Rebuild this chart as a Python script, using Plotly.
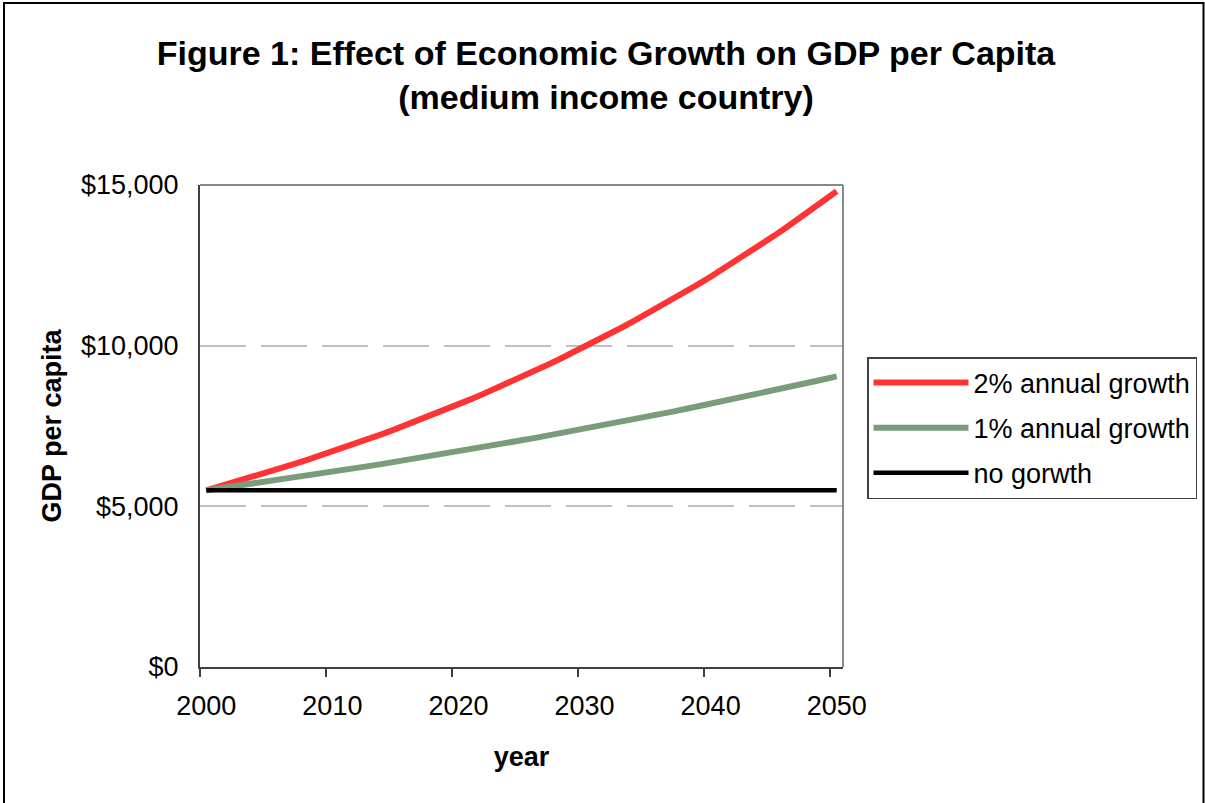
import plotly.graph_objects as go

years = list(range(2000, 2051))

growth_2pct = [
    5500, 5610, 5722, 5837, 5953, 6072, 6194, 6318, 6444, 6573,
    6704, 6839, 6975, 7115, 7257, 7402, 7550, 7701, 7855, 8013,
    8173, 8336, 8503, 8673, 8847, 9024, 9204, 9388, 9576, 9767,
    9963, 10162, 10365, 10573, 10784, 11000, 11220, 11444, 11673, 11906,
    12145, 12387, 12635, 12888, 13146, 13409, 13677, 13950, 14229, 14514,
    14804,
]
growth_1pct = [
    5500, 5555, 5611, 5667, 5723, 5781, 5838, 5897, 5956, 6015,
    6076, 6136, 6198, 6260, 6322, 6385, 6449, 6514, 6579, 6645,
    6711, 6778, 6846, 6915, 6984, 7054, 7124, 7195, 7267, 7340,
    7414, 7488, 7562, 7638, 7714, 7792, 7870, 7948, 8028, 8108,
    8189, 8271, 8354, 8437, 8522, 8607, 8693, 8780, 8868, 8956,
    9046,
]
no_growth = [5500] * 51

series_names = ["2% annual growth", "1% annual growth", "no gorwth"]
y_tickvals = [0, 5000, 10000, 15000]
y_ticktext = ["$0", "$5,000", "$10,000", "$15,000"]
x_tickvals = [2000, 2010, 2020, 2030, 2040, 2050]
x_ticktext = ["2000", "2010", "2020", "2030", "2040", "2050"]

FONT = "Liberation Sans, Arial, sans-serif"

fig = go.Figure()
fig.add_trace(go.Scatter(x=years, y=growth_2pct, mode="lines", name=series_names[0],
                         line=dict(color="#FF3333", width=6), legendgroup="a"))
fig.add_trace(go.Scatter(x=years, y=growth_1pct, mode="lines", name=series_names[1],
                         line=dict(color="#7A9C7A", width=6), legendgroup="b"))
fig.add_trace(go.Scatter(x=years, y=no_growth, mode="lines", name=series_names[2],
                         line=dict(color="#000000", width=4.5), legendgroup="c"))

# plot area in px: left 200, right 843, top 185, bottom 667
L, R, T, B = 200, 843, 185, 667
W, H = 1205, 803
pw, ph = R - L, B - T

def fx(px):
    return (px - L) / pw

def fy(py):
    return (B - py) / ph

fig.update_layout(
    width=W, height=H,
    margin=dict(l=L, r=W - R, t=T, b=H - B, pad=0, autoexpand=False),
    paper_bgcolor="white", plot_bgcolor="white",
    font=dict(family=FONT, size=27, color="black"),
    title=dict(
        text="<b>Figure 1: Effect of Economic Growth on GDP per Capita<br>(medium income country)</b>",
        font=dict(family=FONT, size=34, color="black"),
        x=606 / W, xanchor="center", xref="container",
        y=1 - 65 / H, yanchor="top", yref="container",
    ),
    xaxis=dict(
        range=[1999.5, 2050.5],
        tickmode="array", tickvals=x_tickvals, ticktext=x_ticktext,
        ticks="", showgrid=False, zeroline=False,
        showline=True, linecolor="#404040", linewidth=2,
        tickfont=dict(family=FONT, size=27, color="black"),
        ticklabelstandoff=14,
        minor=dict(tickmode="array", tickvals=[1999.5, 2009.5, 2019.5, 2029.5, 2039.5, 2049.5],
                   ticks="outside", ticklen=8, tickwidth=2, tickcolor="#404040", showgrid=False),
        title=dict(text="<b>year</b>", font=dict(family=FONT, size=27, color="black"), standoff=27),
    ),
    yaxis=dict(
        range=[0, 15000],
        tickmode="array", tickvals=y_tickvals, ticktext=y_ticktext,
        ticks="", showgrid=True, gridcolor="#C0C0C0", gridwidth=1.5, griddash="46px,15px",
        zeroline=False,
        showline=True, linecolor="#404040", linewidth=2,
        tickfont=dict(family=FONT, size=27, color="black"),
        ticklabelstandoff=14,
        title=dict(text="<b>GDP per capita</b>", font=dict(family=FONT, size=27, color="black"), standoff=12),
    ),
    legend=dict(
        xref="container", yref="container",
        x=867 / W, y=1 - 357 / H, xanchor="left", yanchor="top",
        bordercolor="#404040", borderwidth=1.5, bgcolor="white",
        font=dict(family=FONT, size=27, color="black"),
        itemwidth=95, traceorder="grouped", tracegroupgap=7,
    ),
    showlegend=True,
    shapes=[
        dict(type="line", xref="paper", yref="paper", x0=0, x1=1, y0=1, y1=1,
             line=dict(color="#888888", width=2)),
        dict(type="line", xref="paper", yref="paper", x0=1, x1=1, y0=0, y1=1,
             line=dict(color="#888888", width=2)),
        dict(type="rect", xref="paper", yref="paper",
             x0=fx(4), x1=fx(1203.5), y0=fy(810), y1=fy(3),
             line=dict(color="black", width=2), fillcolor="rgba(0,0,0,0)", layer="below"),
    ],
)

fig.write_html("out.html")
